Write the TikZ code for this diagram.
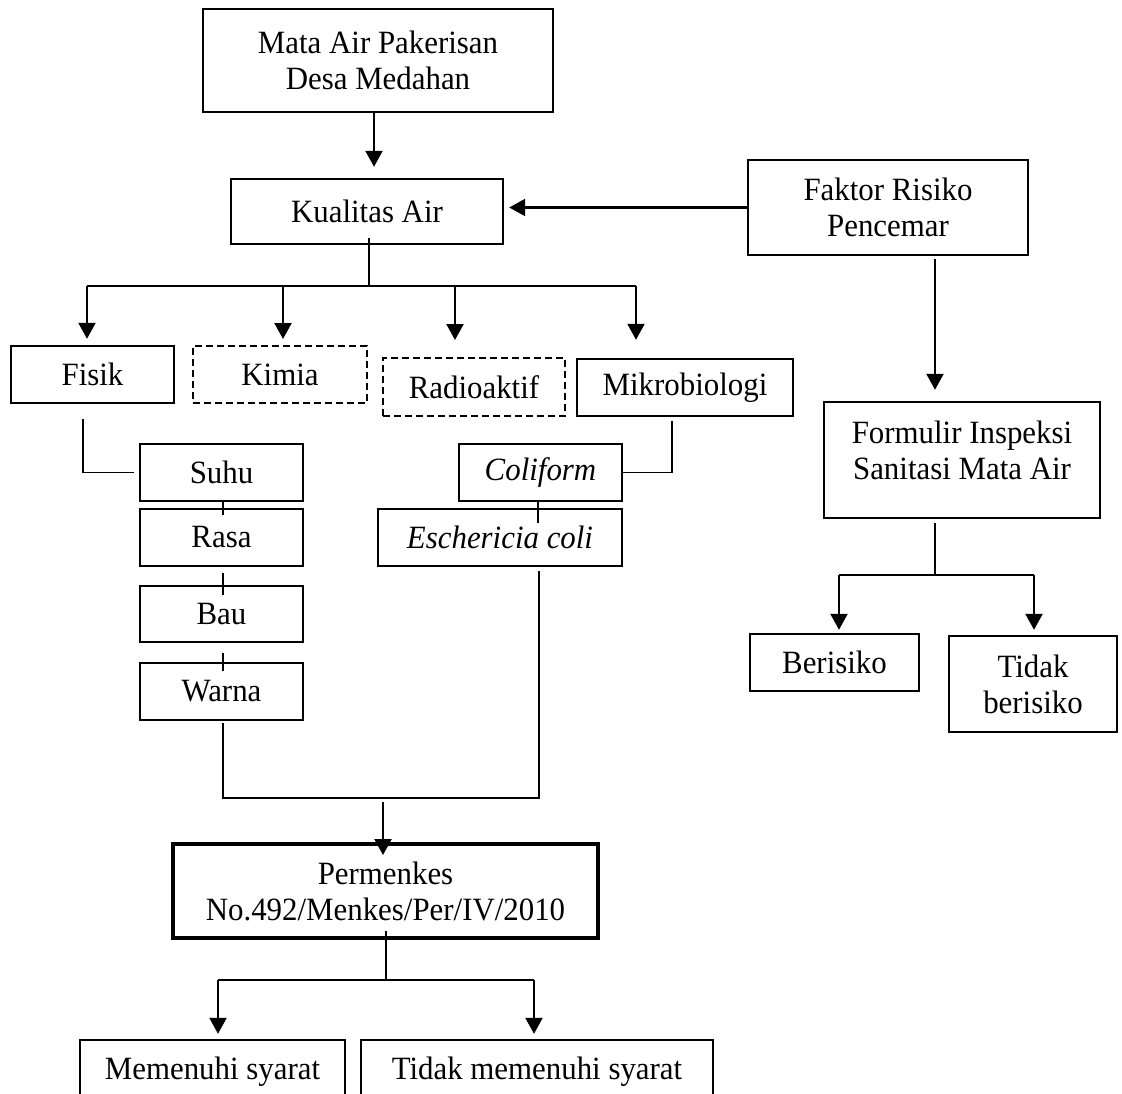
\documentclass[tikz,border=0pt]{standalone}
\usepackage{fontspec}
\setmainfont{Liberation Serif}[FakeStretch=0.95]
\usetikzlibrary{arrows.meta}
\begin{document}
\begin{tikzpicture}[x=1pt,y=-1pt,
  box/.style={draw, line width=2.4pt, rectangle, inner sep=0pt, align=center, font=\fontsize{32.5}{36}\selectfont},
  dbox/.style={box, line width=2pt, dash pattern=on 7pt off 4pt},
  txt/.style={inner sep=0pt, align=center, font=\fontsize{32.5}{36}\selectfont},
  arr/.style={line width=2.2pt, -{Triangle[width=17pt,length=16pt]}},
  thinl/.style={line width=1.2pt}]
\path[use as bounding box] (0,0) rectangle (1122,1094);
\clip (0,0) rectangle (1122,1094);

% nodes
\node[box, minimum width=350pt, minimum height=103pt] (top) at (378,60.5) {Mata Air Pakerisan\\Desa Medahan};
\node[box, minimum width=272pt, minimum height=65pt] (kual) at (367,211.5) {Kualitas Air};
\node[box, minimum width=280pt, minimum height=95pt] (faktor) at (888,207.5) {Faktor Risiko\\Pencemar};

\node[box, minimum width=163pt, minimum height=57pt] (fisik) at (92.5,374.5) {Fisik};
\node[dbox, minimum width=174pt, minimum height=57pt] (kimia) at (280,374.5) {Kimia};
\node[dbox, minimum width=182pt, minimum height=58pt] (radio) at (474,387) {Radioaktif};
\node[box, minimum width=216pt, minimum height=57pt] (mikro) at (685,387.5) {Mikrobiologi};

\node[box, minimum width=163pt, minimum height=57pt] (suhu) at (221.5,472.5) {Suhu};
\node[box, minimum width=163pt, minimum height=57pt] (rasa) at (221.5,537.5) {Rasa};
\node[box, minimum width=163pt, minimum height=56pt] (bau) at (221.5,614) {Bau};
\node[box, minimum width=163pt, minimum height=57pt] (warna) at (221.5,691.5) {Warna};

\node[box, minimum width=163pt, minimum height=57pt] (col) at (540.5,472.5) {\textit{Coliform}};
\node[box, minimum width=244pt, minimum height=57pt] (esc) at (500,537.5) {\textit{Eschericia coli}};

\node[box, minimum width=276pt, minimum height=116pt] (form) at (962,460) {};
\node[txt] (formtxt) at (962,450.5) {Formulir Inspeksi\\Sanitasi Mata Air};
\node[box, minimum width=169pt, minimum height=57pt] (beri) at (834.5,662.5) {Berisiko};
\node[box, minimum width=168pt, minimum height=96pt] (tber) at (1033,684) {Tidak\\berisiko};

\node[box, line width=4pt, minimum width=425pt, minimum height=94pt] (perm) at (385.5,891) {Permenkes\\No.492/Menkes/Per/IV/2010};
\node[box, minimum width=265pt, minimum height=64pt] (mem) at (212.5,1072) {Memenuhi syarat};
\node[box, minimum width=352pt, minimum height=64pt] (tmem) at (537,1072) {Tidak memenuhi syarat};

% top connectors
\coordinate (c1) at (374,0);
\draw[arr, shorten >=11pt] (top.south -| c1) -- (kual.north -| c1);
\draw[arr, shorten >=5pt] (faktor.west) -- (faktor.west -| kual.east);

% branch from Kualitas Air
\coordinate (kb) at (369,286);
\coordinate (b1) at (87,286);
\coordinate (b2) at (283,286);
\coordinate (b3) at (455,286);
\coordinate (b4) at (636,286);
\draw[thinl, shorten <=-7pt] (kual.south -| kb) -- (kb);
\draw[thinl] (b1) -- (b4);
\draw[arr, shorten >=6pt] (b1) -- (fisik.north -| b1);
\draw[arr, shorten >=6pt] (b2) -- (kimia.north -| b2);
\draw[arr, shorten >=17pt] (b3) -- (radio.north -| b3);
\draw[arr, shorten >=18pt] (b4) -- (mikro.north -| b4);

% Fisik branch
\coordinate (fc) at (83,0);
\draw[thinl, shorten <=15pt, shorten >=5pt] (fisik.south -| fc) -- (fc |- suhu.west) -- (suhu.west);
\coordinate (sx) at (223,0);
\draw[thinl, shorten >=-7pt] (suhu.south -| sx) -- (rasa.north -| sx);
\draw[thinl, shorten <=6pt, shorten >=-10pt] (rasa.south -| sx) -- (bau.north -| sx);
\draw[thinl, shorten <=10pt, shorten >=-9pt] (bau.south -| sx) -- (warna.north -| sx);

% Mikrobiologi branch
\coordinate (mx) at (672,0);
\draw[thinl, shorten <=4pt] (mikro.south -| mx) -- (mx |- col.east) -- (col.east);
\coordinate (cx) at (538,0);
\draw[thinl, shorten >=-15pt] (col.south -| cx) -- (esc.north -| cx);

% join to Permenkes
\coordinate (jl) at (223,798);
\coordinate (jr) at (539,798);
\draw[thinl, shorten <=2pt, shorten >=4pt] (warna.south -| jl) -- (jl) -- (jr) -- (esc.south -| jr);
\coordinate (ax) at (383,802);
\draw[arr, shorten >=-13pt] (ax) -- (perm.north -| ax);

% Permenkes branch
\coordinate (pb) at (386,980);
\coordinate (pl) at (218,980);
\coordinate (pr) at (534,980);
\draw[thinl, shorten <=-9pt] (perm.south -| pb) -- (pb);
\draw[thinl] (pl) -- (pr);
\draw[arr, shorten >=5pt] (pl) -- (mem.north -| pl);
\draw[arr, shorten >=5pt] (pr) -- (tmem.north -| pr);

% right side
\coordinate (fx) at (935,0);
\draw[arr, shorten <=3pt, shorten >=11pt] (faktor.south -| fx) -- (form.north -| fx);
\coordinate (fj) at (935,575);
\coordinate (fl) at (839,575);
\coordinate (fr) at (1034,575);
\draw[thinl, shorten <=4pt] (form.south -| fj) -- (fj);
\draw[thinl] (fl) -- (fr);
\draw[arr, shorten >=3pt] (fl) -- (beri.north -| fl);
\draw[arr, shorten >=5pt] (fr) -- (tber.north -| fr);
\end{tikzpicture}
\end{document}
